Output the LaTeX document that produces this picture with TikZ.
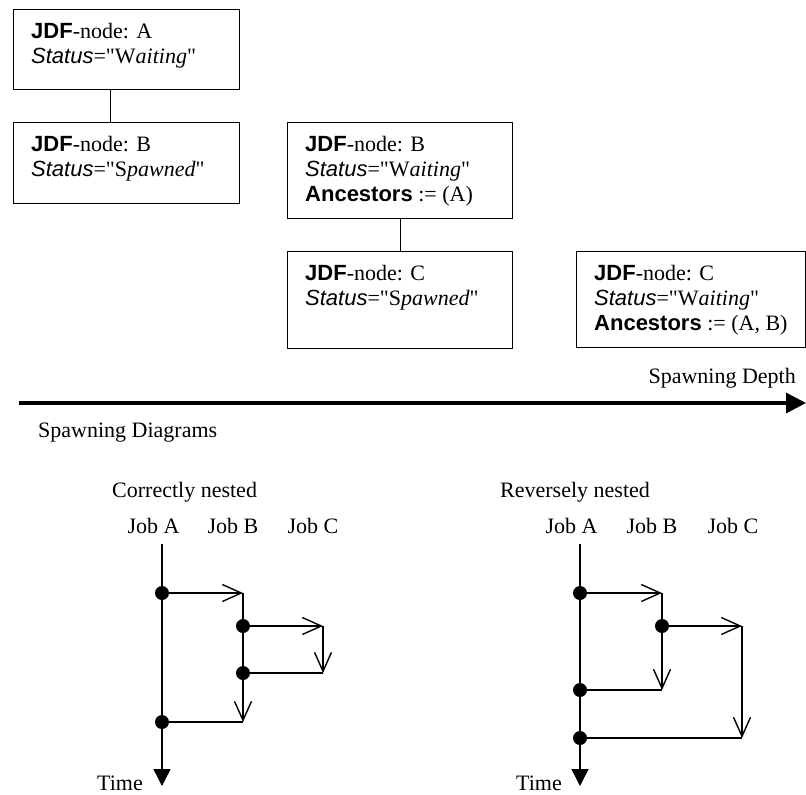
\documentclass[tikz,border=0pt]{standalone}
\usepackage{fontspec}
\setmainfont{Liberation Serif}[Ligatures=TeXOff]
\setsansfont{Liberation Sans}[Ligatures=TeXOff]
\usetikzlibrary{arrows.meta}

\newcommand\jdfw{\textsf{\bfseries JDF}}
\newcommand\statw{\textsf{\itshape Status}}
\newcommand\ancw{\textsf{\bfseries Ancestors}}

\begin{document}
\begin{tikzpicture}[x=1pt,y=-1pt,
  font=\fontsize{22}{25}\selectfont,
  box/.style={draw, line width=1.2pt, anchor=north west, inner sep=0pt},
  btext/.style={anchor=north west, inner sep=0pt, align=left},
  lbl/.style={anchor=base, inner sep=0pt},
  txt/.style={inner sep=0pt},
  ln/.style={line width=1.4pt},
  barb/.style={ln, -{Straight Barb[length=19pt,width=17pt]}},
  axisarr/.style={ln, -{Triangle[length=17pt,width=17pt]}},
  dot/.style={circle, fill, inner sep=0pt, minimum size=14pt},
]
\useasboundingbox (0,0) rectangle (806,795);

% ---------- JDF boxes ----------
\node[box, minimum width=226pt, minimum height=80pt] (A) at (13,9) {};
\node[btext] (At) at (31,20.5) {\strut\jdfw-node: A\\\statw="W\textit{aiting}"};

\node[box, minimum width=226pt, minimum height=81pt] (B1) at (13,122) {};
\node[btext] (B1t) at (31,133.5) {\strut\jdfw-node: B\\\statw="S\textit{pawned}"};

\node[box, minimum width=225pt, minimum height=96pt] (B2) at (287,122) {};
\node[btext] (B2t) at (305,133.5) {\strut\jdfw-node: B\\\statw="W\textit{aiting}"\\\ancw{} := (A)};

\node[box, minimum width=225pt, minimum height=97pt] (C1) at (287,251) {};
\node[btext] (C1t) at (305,262.5) {\strut\jdfw-node: C\\\statw="S\textit{pawned}"};

\node[box, minimum width=229pt, minimum height=96pt] (C2) at (576,251) {};
\node[btext] (C2t) at (594,262.5) {\strut\jdfw-node: C\\\statw="W\textit{aiting}"\\\ancw{} := (A, B)};

\draw[line width=1.2pt] ([xshift=-16pt]A.south) -- ([xshift=-16pt]B1.north);
\draw[line width=1.2pt] (B2.south) -- (C1.north);

% ---------- spawning depth axis ----------
\coordinate (d0) at (19,403);
\coordinate (d1) at (806,403);
\draw[line width=3.5pt, -{Triangle[length=20pt,width=20pt]}] (d0) -- (d1);
\node[txt, anchor=base east] (sd) at (796,383) {Spawning Depth};

\node[txt, anchor=base west] (sdg) at (38,437) {Spawning Diagrams};
\node[txt, anchor=base west] (cn) at (112,497) {Correctly nested};
\node[txt, anchor=base west] (rn) at (500,497) {Reversely nested};

% ---------- left diagram ----------
\node[lbl] (LjA) at (153.5,533) {Job A};
\node[lbl] (LjB) at (233,533) {Job B};
\node[lbl] (LjC) at (313,533) {Job C};

\coordinate (La0) at (162,544);
\coordinate (La1) at (162,786);
\coordinate (Lp1) at (162,593);
\coordinate (Lb1) at (243,593);
\coordinate (Lb2) at (243,626);
\coordinate (Lc1) at (323,626);
\coordinate (Lc2) at (323,673);
\coordinate (Lb3) at (243,673);
\coordinate (Lb4) at (243,722);
\coordinate (Lp4) at (162,722);

\draw[axisarr] (La0) -- (La1);
\draw[barb] (Lp1) -- (Lb1);
\draw[barb] (Lb1) -- (Lb4);
\draw[barb] (Lb2) -- (Lc1);
\draw[barb] (Lc1) -- (Lc2);
\draw[ln] (Lb3) -- (Lc2);
\draw[ln] (Lp4) -- (Lb4);

\node[dot] (Ld1) at (Lp1) {};
\node[dot] (Ld2) at (Lb2) {};
\node[dot] (Ld3) at (Lb3) {};
\node[dot] (Ld4) at (Lp4) {};

\node[txt, anchor=base east] (Lt) at (143,790) {Time};

% ---------- right diagram ----------
\node[lbl] (RjA) at (571.5,533) {Job A};
\node[lbl] (RjB) at (652,533) {Job B};
\node[lbl] (RjC) at (733,533) {Job C};

\coordinate (Ra0) at (580,544);
\coordinate (Ra1) at (580,786);
\coordinate (Rp1) at (580,593);
\coordinate (Rb1) at (662,593);
\coordinate (Rb2) at (662,626);
\coordinate (Rc1) at (742,626);
\coordinate (Rb3) at (662,690);
\coordinate (Rp3) at (580,690);
\coordinate (Rc3) at (742,738);
\coordinate (Rp4) at (580,738);

\draw[axisarr] (Ra0) -- (Ra1);
\draw[barb] (Rp1) -- (Rb1);
\draw[barb] (Rb1) -- (Rb3);
\draw[barb] (Rb2) -- (Rc1);
\draw[barb] (Rc1) -- (Rc3);
\draw[ln] (Rp3) -- (Rb3);
\draw[ln] (Rp4) -- (Rc3);

\node[dot] (Rd1) at (Rp1) {};
\node[dot] (Rd2) at (Rb2) {};
\node[dot] (Rd3) at (Rp3) {};
\node[dot] (Rd4) at (Rp4) {};

\node[txt, anchor=base east] (Rt) at (562,790) {Time};
\end{tikzpicture}
\end{document}
